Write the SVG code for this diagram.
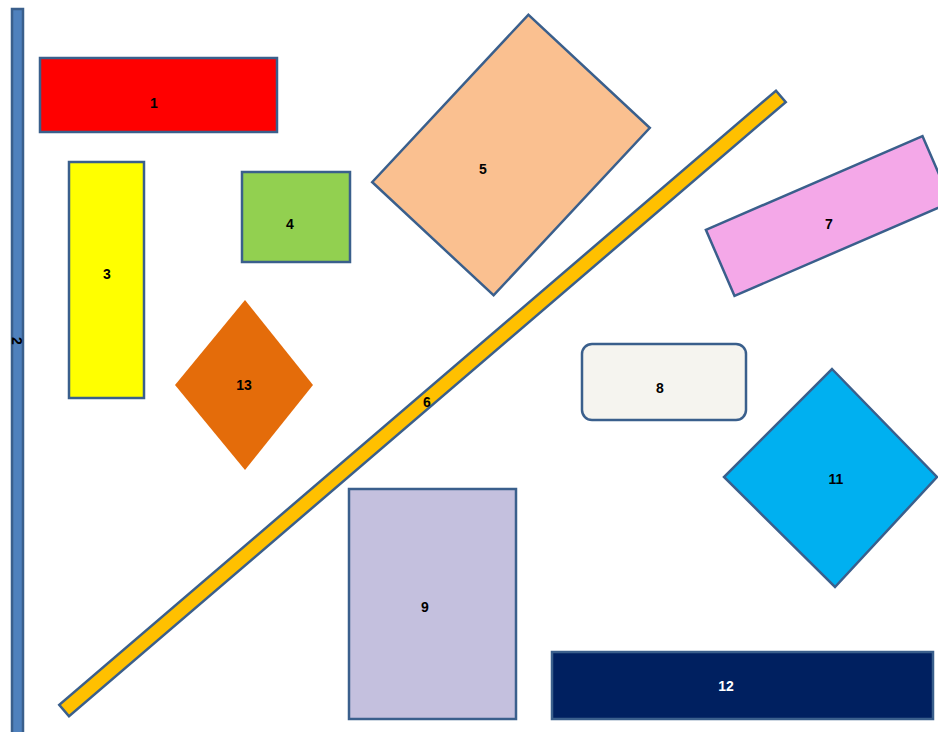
<svg xmlns="http://www.w3.org/2000/svg" width="938" height="732" viewBox="0 0 938 732">
<style>
.s{stroke:#3a5f8c;stroke-width:2.5}
.t{font-family:"Liberation Sans",Arial,sans-serif;font-size:14px;font-weight:bold;fill:#000;text-anchor:middle;dominant-baseline:central}
</style>
<rect width="938" height="732" fill="#fff"/>
<g id="n2"><rect class="s" x="12" y="9" width="11" height="730" fill="#4f81bd"/><text class="t" x="17" y="341" font-size="11" transform="rotate(90 17 341)">2</text></g>
<g id="n1"><rect class="s" x="40" y="58" width="237" height="74" fill="#ff0000" stroke-width="3"/><text class="t" x="154" y="103">1</text></g>
<g id="n3"><rect class="s" x="69" y="162" width="75" height="236" fill="#ffff00"/><text class="t" x="107" y="274">3</text></g>
<g id="n4"><rect class="s" x="242" y="172" width="108" height="90" fill="#92d050"/><text class="t" x="290" y="224">4</text></g>
<g id="n5"><rect class="s" x="-83" y="-114.5" width="166" height="229" fill="#fac090" transform="translate(511 155) rotate(43)"/><text class="t" x="483" y="169">5</text></g>
<g id="n13"><polygon points="245,300 313,385 245,470 175,385" fill="#e46c0a"/><text class="t" x="244" y="385">13</text></g>
<g id="n6"><rect class="s" x="-472" y="-7.5" width="944" height="15" fill="#ffc000" transform="translate(422.5 403.5) rotate(-40.6)"/><text class="t" x="427" y="402">6</text></g>
<g id="n7"><rect class="s" x="-118" y="-36" width="236" height="72" fill="#f4a8e8" transform="translate(828.5 216) rotate(-23.4)"/><text class="t" x="829" y="224">7</text></g>
<g id="n8"><rect class="s" x="582" y="344" width="164" height="76" rx="10" fill="#f5f4ef"/><text class="t" x="660" y="388">8</text></g>
<g id="n11"><polygon class="s" points="832,369 937,477 835,587 724,477" fill="#00b0f0"/><text class="t" x="836" y="479">11</text></g>
<g id="n9"><rect class="s" x="349" y="489" width="167" height="230" fill="#c4c0de"/><text class="t" x="425" y="607">9</text></g>
<g id="n12"><rect class="s" x="552" y="652" width="381" height="67" fill="#002060"/><text class="t" x="726" y="686" style="fill:#ffffff">12</text></g>
<g id="connectors"></g>
</svg>
